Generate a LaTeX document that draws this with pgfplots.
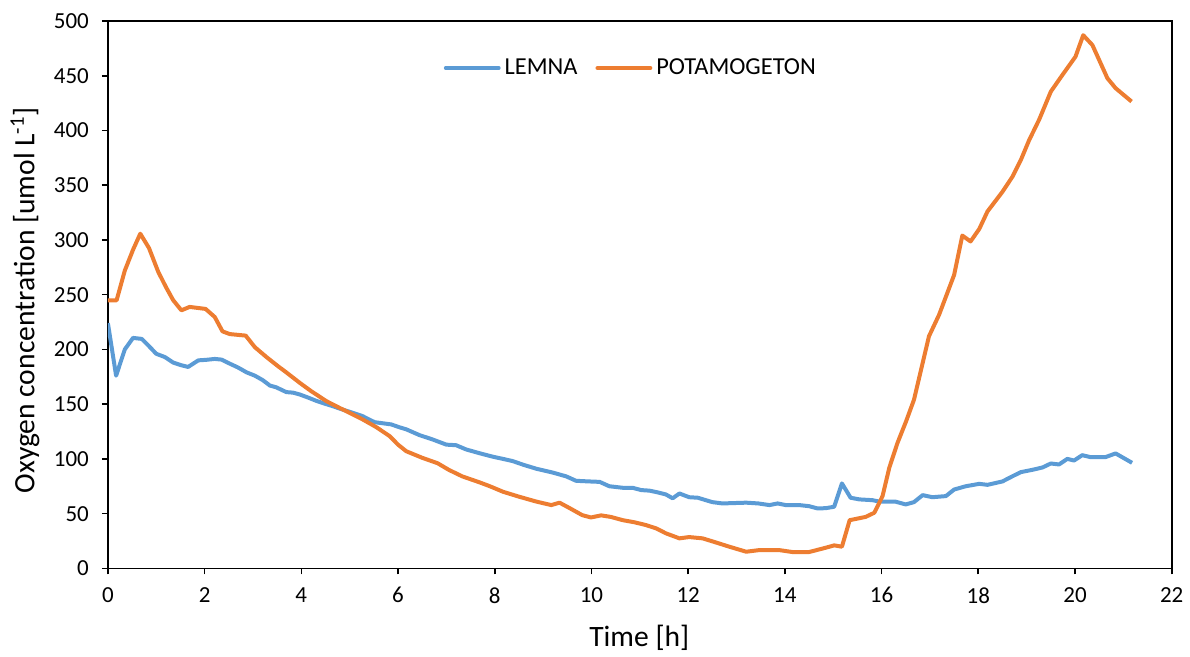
\documentclass[border=0pt]{standalone}
\usepackage{pgfplots}
\pgfplotsset{compat=1.18}
\usepackage{fontspec}
\setmainfont{Carlito}
\definecolor{lemna}{HTML}{5B9BD5}
\definecolor{pota}{HTML}{ED7D31}
\begin{document}
\begin{tikzpicture}
\begin{axis}[
  scale only axis,
  width=532.5pt, height=274pt,
  xmin=0, xmax=22, ymin=0, ymax=500,
  xtick={0,2,...,22}, ytick={0,50,...,500},
  tick pos=left, tick align=outside,
  major tick length=3pt,
  axis line style={black, line width=0.8pt},
  every tick/.style={black, line width=0.8pt},
  /pgf/number format/assume math mode=true,
  ticklabel style={font=\fontsize{11.5}{13}\selectfont},
  xticklabel style={yshift=-3pt},
  yticklabel style={xshift=-3pt},
  xlabel={Time [h]},
  ylabel={Oxygen concentration [umol L\textsuperscript{-1}]},
  label style={font=\fontsize{14.8}{16}\selectfont},
  xlabel style={at={(axis description cs:0.4995,-0.126)}, anchor=center},
  ylabel style={at={(axis description cs:-0.0779,0.49)}, anchor=center},
  legend style={at={(axis description cs:0.4925,0.914)}, anchor=center, draw=none, fill=none,
    font=\fontsize{12.2}{14}\selectfont, legend columns=2,
    /tikz/every even column/.append style={column sep=7pt}},
  legend image code/.code={\draw[#1, line width=2pt, line cap=round] (0cm,0cm) -- (0.93cm,0cm);},
]
\addplot[lemna, line width=2pt, line join=round] coordinates {
(0,224) (0.17,176) (0.35,200) (0.52,210.5) (0.7,209.6) (0.85,203) (1.0,196) (1.18,193) (1.35,188) (1.52,185.5) (1.66,184) (1.87,190) (2.04,190.5) (2.21,191.3) (2.35,190.7) (2.52,187) (2.69,183.5) (2.87,179) (3.04,176) (3.2,172) (3.35,167) (3.48,165.4) (3.69,161) (3.83,160.5) (3.97,158.8) (4.14,156) (4.31,153) (4.48,150.5) (4.66,148) (4.79,146) (5.0,143) (5.14,141) (5.27,139) (5.4,136) (5.52,133.5) (5.86,131.5) (6.02,129) (6.17,127) (6.45,121.6) (6.7,118) (7.0,113) (7.2,112.5) (7.41,108.6) (7.7,105) (7.96,102) (8.17,100) (8.37,98) (8.6,94.5) (8.86,91) (9.2,87.5) (9.48,84) (9.68,80) (9.9,79.5) (10.17,79) (10.37,75) (10.65,73.6) (10.85,73.6) (11.03,71.5) (11.2,71) (11.36,69.5) (11.54,67.5) (11.68,64) (11.82,68.4) (12.02,65) (12.2,64.5) (12.35,62.5) (12.5,60.5) (12.71,59.3) (13.2,60) (13.45,59.3) (13.68,57.8) (13.85,59.3) (14.02,57.8) (14.3,57.8) (14.5,56.8) (14.68,54.7) (14.85,55) (15.02,56.3) (15.18,77.6) (15.36,64.5) (15.54,63) (15.81,62.3) (15.95,61) (16.29,60.9) (16.5,58.4) (16.67,60.5) (16.85,66.9) (17.05,65) (17.33,66) (17.5,72) (17.74,75) (18.02,77.2) (18.19,76.3) (18.5,79.4) (18.71,84.2) (18.88,87.9) (19.15,90.3) (19.33,92.2) (19.5,95.8) (19.67,94.9) (19.84,100) (19.98,98.5) (20.15,103.4) (20.32,101.6) (20.63,101.6) (20.84,105) (21.18,96.4)
};
\addlegendentry{LEMNA}
\addplot[pota, line width=2pt, line join=round] coordinates {
(0,244.8) (0.18,244.8) (0.35,272) (0.52,291) (0.67,305.7) (0.85,292.6) (1.04,271) (1.2,257) (1.35,245) (1.52,235.7) (1.69,238.8) (2.02,237) (2.21,229.6) (2.37,216.5) (2.52,214) (2.85,212.6) (3.04,202) (3.28,193) (3.52,184.6) (3.69,179) (3.97,169.4) (4.2,162) (4.52,152.7) (4.79,146.6) (5.0,142) (5.27,136) (5.55,129) (5.83,120.7) (6.0,113) (6.17,107) (6.5,101) (6.82,96) (7.05,90) (7.33,84) (7.69,78.5) (7.9,75) (8.17,70) (8.5,65.5) (8.86,61) (9.17,57.8) (9.34,60) (9.55,55) (9.81,48.6) (9.99,46.5) (10.2,48.4) (10.4,47) (10.65,44) (10.9,42) (11.13,39.5) (11.34,36.5) (11.54,32) (11.82,27.4) (12.02,28.6) (12.3,27.4) (12.55,24) (12.85,19.8) (13.2,15.2) (13.47,16.7) (13.88,16.7) (14.16,14.9) (14.5,14.9) (14.85,18.9) (15.02,21) (15.18,19.8) (15.34,44) (15.67,47) (15.85,50.8) (16.02,66) (16.16,92) (16.33,114.7) (16.5,133.5) (16.67,154) (16.98,212) (17.19,231.7) (17.5,268) (17.67,304) (17.84,298.6) (18.02,310) (18.19,326) (18.5,344) (18.71,358) (18.88,373) (19.05,391) (19.26,410) (19.5,435.5) (19.74,450.7) (20.01,467.4) (20.17,487) (20.36,478) (20.67,447.7) (20.84,438.6) (21.17,426.4)
};
\addlegendentry{POTAMOGETON}
\end{axis}
\path (current axis.south west) ++(-54pt,-43pt) (current axis.north east) ++(8.5pt,10.5pt);
\end{tikzpicture}
\end{document}
